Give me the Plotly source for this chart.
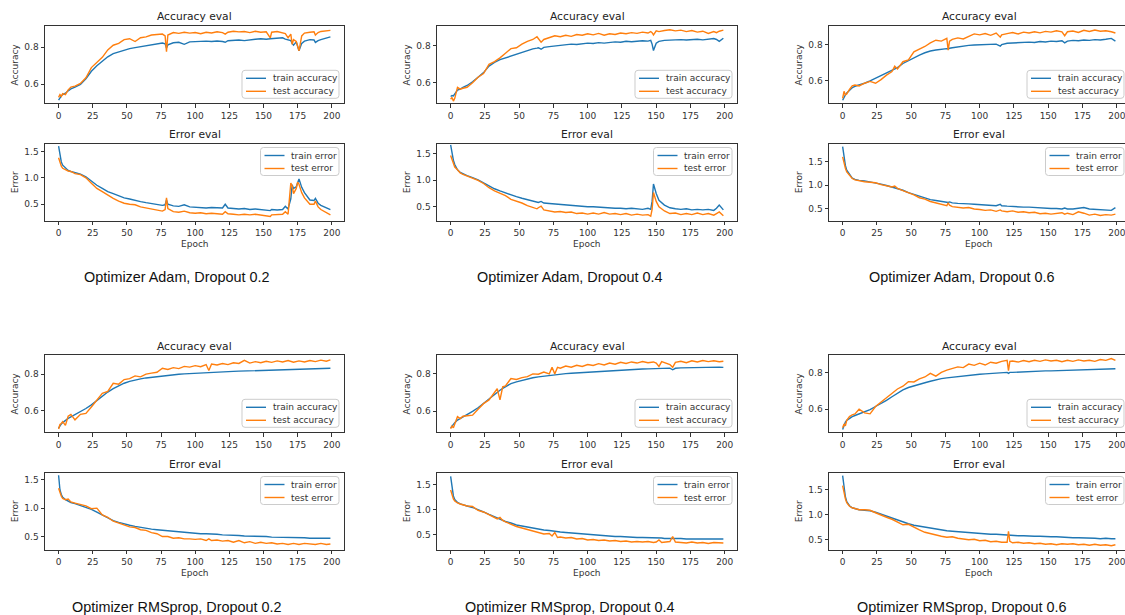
import plotly.graph_objects as go

W, H = 1125, 615
BLUE = "#1f77b4"
ORANGE = "#ff7f0e"

# ---------------- data ----------------
EP_ADAM_02 = [0,1,2,3,5,7,9,12,16,20,24,28,32,36,40,44,48,52,56,60,64,68,72,76,78,79,80,84,88,92,
              96,100,104,108,112,116,120,122,124,128,132,136,140,144,148,152,155,156,160,164,
              166,168,170,171,172,174,175,176,178,180,184,187,188,190,192,196,199]
TRAIN_ACC_ADAM_02 = [0.515,0.530,0.538,0.545,0.552,0.565,0.575,0.585,0.600,0.630,
                     0.670,0.700,0.725,0.748,0.765,0.775,0.785,0.792,0.797,0.802,
                     0.808,0.812,0.818,0.822,0.818,0.795,0.812,0.823,0.826,0.815,
                     0.828,0.830,0.828,0.832,0.830,0.833,0.830,0.826,0.834,0.836,
                     0.838,0.835,0.840,0.842,0.845,0.842,0.845,0.846,0.848,0.850,
                     0.843,0.838,0.835,0.820,0.810,0.828,0.800,0.780,0.820,0.832,
                     0.840,0.838,0.825,0.835,0.840,0.848,0.855]
TEST_ACC_ADAM_02 = [0.530,0.545,0.535,0.550,0.545,0.570,0.585,0.590,0.605,0.635,
                    0.690,0.715,0.745,0.785,0.810,0.820,0.840,0.845,0.830,0.850,
                    0.855,0.865,0.868,0.870,0.860,0.775,0.865,0.878,0.874,0.880,
                    0.875,0.878,0.872,0.880,0.876,0.882,0.878,0.870,0.880,0.885,
                    0.882,0.884,0.878,0.885,0.880,0.882,0.850,0.880,0.884,0.878,
                    0.872,0.850,0.870,0.815,0.840,0.830,0.810,0.780,0.860,0.875,
                    0.880,0.882,0.865,0.878,0.884,0.886,0.890]
TRAIN_ERR_ADAM_02 = [1.60,1.40,1.30,1.24,1.18,1.14,1.12,1.10,1.07,1.02,
                     0.94,0.86,0.80,0.74,0.70,0.66,0.62,0.60,0.57,0.55,
                     0.53,0.51,0.49,0.48,0.49,0.58,0.50,0.47,0.46,0.49,
                     0.45,0.44,0.44,0.43,0.44,0.43,0.43,0.50,0.43,0.42,
                     0.41,0.42,0.40,0.41,0.40,0.40,0.38,0.40,0.39,0.40,
                     0.46,0.41,0.60,0.87,0.80,0.83,0.92,0.98,0.82,0.72,
                     0.58,0.57,0.61,0.52,0.48,0.43,0.40]
TEST_ERR_ADAM_02 = [1.38,1.28,1.22,1.18,1.15,1.13,1.12,1.08,1.06,1.00,
                    0.90,0.80,0.74,0.67,0.61,0.56,0.52,0.50,0.49,0.45,
                    0.43,0.40,0.39,0.37,0.40,0.62,0.42,0.36,0.35,0.37,
                    0.34,0.33,0.34,0.32,0.33,0.32,0.31,0.36,0.32,0.31,
                    0.30,0.31,0.30,0.31,0.30,0.29,0.27,0.30,0.30,0.31,
                    0.36,0.31,0.90,0.85,0.70,0.80,0.92,0.88,0.72,0.62,
                    0.50,0.50,0.56,0.45,0.40,0.34,0.30]

EP_ADAM_04 = [0,1,2,3,5,7,9,12,16,20,24,28,32,36,40,44,48,52,56,60,63,64,66,68,72,76,80,84,88,92,
              96,100,104,108,112,116,120,124,128,132,136,140,144,146,147,148,150,152,156,160,
              164,168,172,176,180,184,188,192,194,196,199]
TRAIN_ACC_ADAM_04 = [0.525,0.530,0.528,0.540,0.560,0.565,0.575,0.585,0.605,0.630,
                     0.655,0.690,0.710,0.725,0.735,0.748,0.758,0.768,0.776,0.784,
                     0.788,0.790,0.782,0.792,0.796,0.800,0.803,0.806,0.810,0.808,
                     0.812,0.815,0.813,0.818,0.815,0.820,0.822,0.820,0.825,0.823,
                     0.826,0.828,0.826,0.830,0.810,0.775,0.815,0.825,0.830,0.832,
                     0.830,0.834,0.832,0.835,0.836,0.833,0.838,0.840,0.835,0.825,
                     0.842]
TEST_ACC_ADAM_04 = [0.510,0.520,0.500,0.515,0.575,0.565,0.570,0.575,0.600,0.630,
                    0.650,0.700,0.715,0.735,0.760,0.785,0.790,0.810,0.825,0.835,
                    0.850,0.840,0.820,0.835,0.845,0.855,0.850,0.858,0.852,0.862,
                    0.858,0.866,0.860,0.868,0.858,0.866,0.862,0.870,0.866,0.872,
                    0.868,0.875,0.870,0.878,0.872,0.860,0.882,0.878,0.884,0.888,
                    0.882,0.886,0.878,0.884,0.875,0.880,0.868,0.878,0.872,0.880,
                    0.886]
TRAIN_ERR_ADAM_04 = [1.67,1.48,1.38,1.30,1.20,1.15,1.12,1.09,1.05,1.01,
                     0.95,0.89,0.84,0.80,0.76,0.72,0.69,0.66,0.63,0.61,
                     0.59,0.58,0.60,0.57,0.56,0.55,0.54,0.53,0.53,0.52,
                     0.51,0.50,0.50,0.49,0.49,0.48,0.47,0.47,0.46,0.47,
                     0.46,0.45,0.47,0.45,0.60,0.93,0.75,0.62,0.53,0.48,
                     0.46,0.45,0.46,0.44,0.45,0.44,0.45,0.43,0.47,0.53,
                     0.44]
TEST_ERR_ADAM_04 = [1.47,1.38,1.30,1.25,1.20,1.14,1.11,1.08,1.04,1.00,
                    0.94,0.86,0.80,0.76,0.71,0.64,0.61,0.57,0.52,0.49,
                    0.46,0.48,0.51,0.44,0.42,0.40,0.41,0.39,0.40,0.37,
                    0.38,0.36,0.38,0.36,0.39,0.36,0.37,0.35,0.37,0.34,
                    0.36,0.34,0.35,0.32,0.45,0.77,0.60,0.50,0.42,0.37,
                    0.38,0.35,0.37,0.35,0.38,0.35,0.37,0.34,0.37,0.40,
                    0.33]

EP_ADAM_06 = [0,1,2,3,5,7,9,12,16,20,24,28,32,36,38,40,44,48,52,56,60,64,68,72,76,77,78,80,84,88,
              92,96,100,104,108,112,115,116,120,124,128,132,136,140,144,148,152,156,160,162,
              164,168,172,176,180,184,188,192,196,199]
TRAIN_ACC_ADAM_06 = [0.490,0.510,0.520,0.530,0.548,0.560,0.568,0.575,0.585,0.598,
                     0.612,0.628,0.642,0.655,0.662,0.672,0.695,0.712,0.728,0.742,
                     0.755,0.765,0.770,0.775,0.778,0.776,0.780,0.783,0.788,0.792,
                     0.796,0.798,0.800,0.802,0.805,0.803,0.792,0.800,0.808,0.810,
                     0.812,0.810,0.814,0.812,0.818,0.815,0.820,0.818,0.822,0.810,
                     0.820,0.824,0.822,0.826,0.824,0.828,0.826,0.830,0.835,0.820]
TEST_ACC_ADAM_06 = [0.500,0.540,0.520,0.525,0.550,0.570,0.575,0.570,0.585,0.595,
                    0.585,0.605,0.630,0.650,0.680,0.665,0.705,0.715,0.760,0.775,
                    0.790,0.810,0.825,0.820,0.835,0.770,0.820,0.830,0.838,0.832,
                    0.845,0.860,0.855,0.862,0.852,0.865,0.842,0.855,0.862,0.868,
                    0.860,0.870,0.865,0.872,0.866,0.874,0.870,0.878,0.872,0.850,
                    0.872,0.876,0.868,0.880,0.874,0.882,0.875,0.878,0.872,0.865]
TRAIN_ERR_ADAM_06 = [1.82,1.56,1.42,1.32,1.22,1.15,1.12,1.10,1.09,1.07,
                     1.05,1.02,0.99,0.96,0.95,0.93,0.89,0.84,0.80,0.76,
                     0.72,0.69,0.67,0.65,0.64,0.63,0.64,0.62,0.61,0.61,
                     0.60,0.59,0.58,0.57,0.57,0.56,0.59,0.56,0.55,0.54,
                     0.54,0.53,0.53,0.52,0.52,0.51,0.50,0.50,0.49,0.51,
                     0.49,0.49,0.50,0.52,0.49,0.48,0.48,0.47,0.46,0.52]
TEST_ERR_ADAM_06 = [1.60,1.46,1.36,1.28,1.20,1.14,1.11,1.09,1.07,1.06,
                    1.05,1.01,0.98,0.96,0.98,0.93,0.88,0.84,0.79,0.73,
                    0.70,0.65,0.62,0.59,0.56,0.62,0.57,0.54,0.53,0.51,
                    0.52,0.49,0.48,0.46,0.47,0.44,0.47,0.45,0.43,0.45,
                    0.42,0.43,0.41,0.42,0.39,0.40,0.38,0.39,0.41,0.38,
                    0.40,0.37,0.43,0.40,0.36,0.38,0.35,0.37,0.36,0.38]

EP_RMS_02 = [0,1,2,3,5,7,9,12,16,20,24,28,32,36,40,44,48,52,56,60,64,68,72,76,80,84,88,92,96,100,
             104,108,110,112,116,120,124,128,132,136,140,144,148,152,156,160,164,168,172,176,
             180,184,188,192,196,199]
TRAIN_ACC_RMS_02 = [0.505,0.518,0.528,0.535,0.548,0.558,0.566,0.578,0.595,0.612,
                    0.632,0.655,0.680,0.702,0.720,0.737,0.750,0.760,0.768,0.774,
                    0.779,0.783,0.787,0.790,0.794,0.797,0.799,0.801,0.803,0.805,
                    0.806,0.808,0.808,0.809,0.811,0.812,0.814,0.815,0.816,0.817,
                    0.818,0.819,0.820,0.821,0.822,0.823,0.824,0.823,0.826,0.826,
                    0.827,0.826,0.829,0.830,0.830,0.832]
TEST_ACC_RMS_02 = [0.500,0.525,0.530,0.540,0.520,0.570,0.580,0.550,0.580,0.585,
                   0.620,0.660,0.695,0.705,0.750,0.745,0.770,0.775,0.790,0.785,
                   0.800,0.805,0.810,0.832,0.825,0.835,0.830,0.842,0.838,0.846,
                   0.840,0.852,0.820,0.855,0.850,0.858,0.852,0.862,0.858,0.875,
                   0.860,0.868,0.862,0.870,0.864,0.872,0.866,0.874,0.865,0.872,
                   0.866,0.874,0.868,0.876,0.870,0.878]
TRAIN_ERR_RMS_02 = [1.58,1.32,1.24,1.19,1.15,1.12,1.10,1.08,1.05,1.02,
                    0.98,0.93,0.88,0.83,0.78,0.75,0.72,0.70,0.68,0.66,
                    0.65,0.63,0.62,0.61,0.60,0.59,0.58,0.57,0.56,0.56,
                    0.55,0.55,0.55,0.54,0.54,0.53,0.53,0.52,0.52,0.51,
                    0.51,0.51,0.50,0.50,0.49,0.49,0.49,0.48,0.48,0.48,
                    0.48,0.47,0.47,0.47,0.47,0.47]
TEST_ERR_RMS_02 = [1.35,1.26,1.21,1.17,1.15,1.16,1.11,1.09,1.07,1.04,
                   0.99,1.00,0.88,0.84,0.77,0.74,0.70,0.67,0.66,0.62,
                   0.61,0.57,0.55,0.50,0.50,0.47,0.48,0.46,0.46,0.45,
                   0.46,0.43,0.46,0.43,0.44,0.42,0.43,0.40,0.43,0.39,
                   0.41,0.38,0.40,0.38,0.39,0.37,0.38,0.36,0.38,0.36,
                   0.38,0.37,0.36,0.38,0.36,0.37]

EP_RMS_04 = [0,1,2,3,5,7,9,12,16,20,24,28,32,34,36,38,40,44,48,52,56,60,64,68,72,74,76,78,80,84,
             88,92,96,100,104,108,112,116,120,124,128,132,136,140,144,148,150,152,154,156,
             160,162,164,168,172,176,180,184,188,192,196,199]
TRAIN_ACC_RMS_04 = [0.510,0.520,0.530,0.538,0.552,0.560,0.568,0.578,0.598,0.618,
                    0.642,0.668,0.692,0.702,0.712,0.722,0.732,0.748,0.757,0.765,
                    0.772,0.779,0.784,0.788,0.791,0.793,0.795,0.796,0.798,0.801,
                    0.803,0.805,0.808,0.810,0.812,0.814,0.815,0.817,0.819,0.821,
                    0.822,0.823,0.825,0.826,0.827,0.828,0.829,0.828,0.830,0.830,
                    0.831,0.822,0.830,0.832,0.833,0.833,0.834,0.835,0.834,0.836,
                    0.836,0.835]
TEST_ACC_RMS_04 = [0.505,0.520,0.510,0.530,0.570,0.560,0.572,0.575,0.578,0.610,
                   0.640,0.660,0.700,0.720,0.660,0.730,0.735,0.775,0.770,0.780,
                   0.785,0.800,0.798,0.810,0.800,0.835,0.800,0.835,0.830,0.842,
                   0.836,0.846,0.840,0.850,0.845,0.855,0.848,0.858,0.852,0.862,
                   0.856,0.864,0.858,0.866,0.860,0.864,0.858,0.840,0.866,0.862,
                   0.850,0.835,0.862,0.868,0.860,0.870,0.864,0.872,0.866,0.870,
                   0.865,0.868]
TRAIN_ERR_RMS_04 = [1.67,1.42,1.28,1.21,1.15,1.12,1.10,1.08,1.05,1.01,
                    0.96,0.91,0.86,0.84,0.82,0.80,0.77,0.74,0.70,0.68,
                    0.66,0.63,0.61,0.60,0.59,0.58,0.58,0.57,0.56,0.55,
                    0.54,0.53,0.52,0.51,0.50,0.50,0.49,0.48,0.47,0.47,
                    0.46,0.46,0.45,0.45,0.45,0.44,0.44,0.44,0.44,0.43,
                    0.43,0.44,0.43,0.43,0.42,0.42,0.42,0.42,0.42,0.41,
                    0.42,0.42]
TEST_ERR_RMS_04 = [1.40,1.30,1.22,1.18,1.14,1.12,1.10,1.08,1.07,0.99,
                   0.96,0.90,0.85,0.82,0.85,0.79,0.76,0.71,0.67,0.64,
                   0.61,0.58,0.55,0.52,0.53,0.48,0.55,0.45,0.46,0.44,
                   0.45,0.42,0.43,0.40,0.41,0.39,0.40,0.38,0.39,0.37,
                   0.38,0.36,0.37,0.36,0.37,0.35,0.36,0.40,0.35,0.36,
                   0.37,0.47,0.36,0.35,0.34,0.36,0.34,0.35,0.33,0.35,
                   0.34,0.34]

EP_RMS_06 = [0,1,2,3,5,7,9,12,16,20,24,28,32,36,40,44,48,52,56,60,64,68,72,76,80,84,88,92,96,100,
             104,108,112,116,120,121,122,124,128,132,136,140,144,148,152,156,160,164,168,172,
             176,180,184,188,192,196,199]
TRAIN_ACC_RMS_06 = [0.490,0.515,0.530,0.540,0.552,0.560,0.566,0.575,0.585,0.598,
                    0.615,0.630,0.648,0.668,0.688,0.705,0.718,0.728,0.736,0.744,
                    0.752,0.760,0.766,0.770,0.774,0.778,0.782,0.785,0.788,0.790,
                    0.792,0.794,0.796,0.798,0.800,0.795,0.800,0.800,0.802,0.803,
                    0.804,0.805,0.806,0.808,0.808,0.809,0.810,0.811,0.812,0.813,
                    0.814,0.815,0.816,0.817,0.820,0.819,0.820]
TEST_ACC_RMS_06 = [0.500,0.520,0.510,0.540,0.560,0.570,0.575,0.600,0.580,0.575,
                   0.615,0.640,0.660,0.690,0.710,0.725,0.750,0.748,0.765,0.775,
                   0.795,0.780,0.800,0.812,0.822,0.830,0.826,0.845,0.838,0.850,
                   0.840,0.855,0.850,0.860,0.865,0.810,0.860,0.862,0.856,0.864,
                   0.858,0.866,0.860,0.868,0.862,0.866,0.858,0.866,0.860,0.868,
                   0.862,0.866,0.860,0.870,0.865,0.875,0.865]
TRAIN_ERR_RMS_06 = [1.78,1.50,1.36,1.26,1.18,1.14,1.12,1.10,1.09,1.08,
                    1.05,1.01,0.97,0.93,0.89,0.85,0.82,0.79,0.77,0.75,
                    0.73,0.71,0.70,0.68,0.67,0.66,0.65,0.64,0.63,0.63,
                    0.62,0.61,0.61,0.60,0.59,0.60,0.59,0.59,0.58,0.58,
                    0.57,0.57,0.57,0.56,0.56,0.56,0.55,0.55,0.54,0.54,
                    0.54,0.53,0.53,0.52,0.53,0.52,0.52]
TEST_ERR_RMS_06 = [1.58,1.42,1.32,1.24,1.17,1.14,1.12,1.10,1.10,1.09,
                   1.04,0.99,0.95,0.91,0.85,0.80,0.81,0.75,0.70,0.65,
                   0.62,0.59,0.57,0.55,0.56,0.53,0.52,0.50,0.51,0.48,
                   0.49,0.46,0.47,0.45,0.45,0.67,0.47,0.44,0.45,0.43,
                   0.44,0.42,0.43,0.41,0.42,0.40,0.42,0.41,0.42,0.40,
                   0.41,0.39,0.41,0.39,0.40,0.38,0.40]

CAPTIONS = ["Optimizer Adam, Dropout 0.2", "Optimizer Adam, Dropout 0.4", "Optimizer Adam, Dropout 0.6",
            "Optimizer RMSprop, Dropout 0.2", "Optimizer RMSprop, Dropout 0.4", "Optimizer RMSprop, Dropout 0.6"]
X_TICKS = [0, 25, 50, 75, 100, 125, 150, 175, 200]
ACC_TICKS = [0.6, 0.8]
ERR_TICKS = [0.5, 1.0, 1.5]
ACC_NAMES = ["train accuracy", "test accuracy"]
ERR_NAMES = ["train error", "test error"]

PANELS = [
    (EP_ADAM_02, TRAIN_ACC_ADAM_02, TEST_ACC_ADAM_02, TRAIN_ERR_ADAM_02, TEST_ERR_ADAM_02),
    (EP_ADAM_04, TRAIN_ACC_ADAM_04, TEST_ACC_ADAM_04, TRAIN_ERR_ADAM_04, TEST_ERR_ADAM_04),
    (EP_ADAM_06, TRAIN_ACC_ADAM_06, TEST_ACC_ADAM_06, TRAIN_ERR_ADAM_06, TEST_ERR_ADAM_06),
    (EP_RMS_02, TRAIN_ACC_RMS_02, TEST_ACC_RMS_02, TRAIN_ERR_RMS_02, TEST_ERR_RMS_02),
    (EP_RMS_04, TRAIN_ACC_RMS_04, TEST_ACC_RMS_04, TRAIN_ERR_RMS_04, TEST_ERR_RMS_04),
    (EP_RMS_06, TRAIN_ACC_RMS_06, TEST_ACC_RMS_06, TRAIN_ERR_RMS_06, TEST_ERR_RMS_06),
]
for p in PANELS:
    for s in p[1:]:
        assert len(s) == len(p[0]), (len(s), len(p[0]))

# ---------------- layout geometry (pixels) ----------------
ACC_RANGES = [[0.498, 0.916], [0.488, 0.911], [0.473, 0.907], [0.482, 0.907], [0.486, 0.904], [0.475, 0.897]]
ERR_RANGES = [[0.187, 1.65], [0.233, 1.697], [0.238, 1.887], [0.267, 1.628], [0.204, 1.749], [0.30, 1.844]]
COL_LEFT = [45, 437, 829]
COL_RIGHT = [344, 737, 1125]
COL_RIGHT_VIRTUAL = [344, 737, 1129]
X_RANGES = [[-9.95, 208.95], [-9.95, 208.95], [-9.95, 206.0]]
ROW_SHIFT = [0, 329]
ACC_BOX = (25.5, 103.3)
ERR_BOX = (143.5, 220.8)
CAPTION_X = [177, 570, 962]
CAPTION_Y = [277, 606.5]
LEG_W = [97, 78.5]   # legend box width for accuracy / error legends
LEG_H = 28

TXT = "#333333"
FONT = "DejaVu Sans"
LW = 1.4

fig = go.Figure()
annotations = []
shapes = []
layout = {}


def px(x):
    return x / W


def py(y):
    return 1 - y / H


def rounded_rect(x0, y0, x1, y1, r=3):
    pts = [
        ("M", x0 + r, y0), ("L", x1 - r, y0), ("Q", x1, y0, x1, y0 + r), ("L", x1, y1 - r),
        ("Q", x1, y1, x1 - r, y1), ("L", x0 + r, y1), ("Q", x0, y1, x0, y1 - r), ("L", x0, y0 + r),
        ("Q", x0, y0, x0 + r, y0),
    ]
    out = []
    for p in pts:
        cmd = p[0]
        coords = p[1:]
        s = []
        for a in range(0, len(coords), 2):
            s.append(f"{px(coords[a]):.5f},{py(coords[a + 1]):.5f}")
        out.append(cmd + " " + " ".join(s))
    return " ".join(out) + " Z"


for i, (ep, tra, tea, tre, tee) in enumerate(PANELS):
    row, col = divmod(i, 3)
    dy = ROW_SHIFT[row]
    left, right = COL_LEFT[col], COL_RIGHT[col]
    rv = COL_RIGHT_VIRTUAL[col]
    cx = (left + rv) / 2
    for j in range(2):
        k = 2 * i + j + 1
        sfx = "" if k == 1 else str(k)
        top, bottom = (ACC_BOX if j == 0 else ERR_BOX)
        top += dy
        bottom += dy
        if j == 0:
            ys, names, yr, yt = (tra, tea), ACC_NAMES, ACC_RANGES[i], ACC_TICKS
            title, ylab = "Accuracy eval", "Accuracy"
        else:
            ys, names, yr, yt = (tre, tee), ERR_NAMES, ERR_RANGES[i], ERR_TICKS
            title, ylab = "Error eval", "Error"
        for yy, nm, colr in zip(ys, names, (BLUE, ORANGE)):
            fig.add_trace(go.Scatter(
                x=ep, y=yy, mode="lines", name=nm, showlegend=False,
                line=dict(color=colr, width=LW),
                xaxis="x" + sfx, yaxis="y" + sfx,
            ))
        layout["xaxis" + sfx] = dict(
            domain=[px(left), px(right)], range=X_RANGES[col], anchor="y" + sfx,
            tickvals=X_TICKS, ticks="outside", ticklen=3.5, tickcolor=TXT,
            showline=True, mirror=True, linecolor=TXT, linewidth=1,
            showgrid=False, zeroline=False, ticklabeloverflow="allow",
            tickfont=dict(family=FONT, size=9, color=TXT),
        )
        layout["yaxis" + sfx] = dict(
            domain=[py(bottom), py(top)], range=yr, anchor="x" + sfx,
            tickvals=yt, tickformat=".1f", ticks="outside", ticklen=3.5, tickcolor=TXT,
            showline=True, mirror=(col != 2), linecolor=TXT, linewidth=1,
            showgrid=False, zeroline=False,
            tickfont=dict(family=FONT, size=9, color=TXT),
        )
        # legend box (drawn by hand, matplotlib style)
        lr = rv - 5
        lw = LEG_W[j]
        if j == 0:
            lb = bottom - 5
            lt = lb - LEG_H
        else:
            lt = top + 4
            lb = lt + LEG_H
        ll = lr - lw
        shapes.append(dict(type="path", path=rounded_rect(ll, lt, lr, lb), xref="paper", yref="paper",
                           fillcolor="rgba(255,255,255,0.85)", line=dict(color="#cccccc", width=1),
                           layer="above"))
        for r_i, (nm, colr) in enumerate(zip(names, (BLUE, ORANGE))):
            yrow = lt + 8 + 13 * r_i
            shapes.append(dict(type="line", x0=px(ll + 4), x1=px(ll + 24), y0=py(yrow), y1=py(yrow),
                               xref="paper", yref="paper", line=dict(color=colr, width=LW),
                               layer="above"))
            annotations.append(dict(text=nm, x=px(ll + 28.5), y=py(yrow), xref="paper", yref="paper",
                                    showarrow=False, xanchor="left", yanchor="middle",
                                    font=dict(family=FONT, size=9, color=TXT)))
        annotations.append(dict(text=title, x=px(cx), y=py(top - 8.5), xref="paper", yref="paper",
                                showarrow=False, xanchor="center", yanchor="middle",
                                font=dict(family=FONT, size=10.7, color="#222222")))
        annotations.append(dict(text=ylab, x=px(left - 30), y=py((top + bottom) / 2), xref="paper",
                                yref="paper", showarrow=False, textangle=-90,
                                xanchor="center", yanchor="middle",
                                font=dict(family=FONT, size=9, color=TXT)))
        if j == 1:
            annotations.append(dict(text="Epoch", x=px(cx), y=py(bottom + 23.5), xref="paper",
                                    yref="paper", showarrow=False, xanchor="center", yanchor="middle",
                                    font=dict(family=FONT, size=9, color=TXT)))
    annotations.append(dict(text=CAPTIONS[i], x=px(CAPTION_X[col]), y=py(CAPTION_Y[row]), xref="paper",
                            yref="paper", showarrow=False, xanchor="center", yanchor="middle",
                            font=dict(family="Liberation Sans", size=14.4, color="#111111")))

fig.update_layout(
    width=W, height=H, margin=dict(l=0, r=0, t=0, b=0),
    paper_bgcolor="white", plot_bgcolor="white",
    showlegend=False, annotations=annotations, shapes=shapes, **layout,
)

fig.write_html(
    "out.html",
    config={"displayModeBar": False},
    post_script="document.body.style.margin='0px';document.body.style.padding='0px';"
                "document.body.style.overflow='hidden';",
)
